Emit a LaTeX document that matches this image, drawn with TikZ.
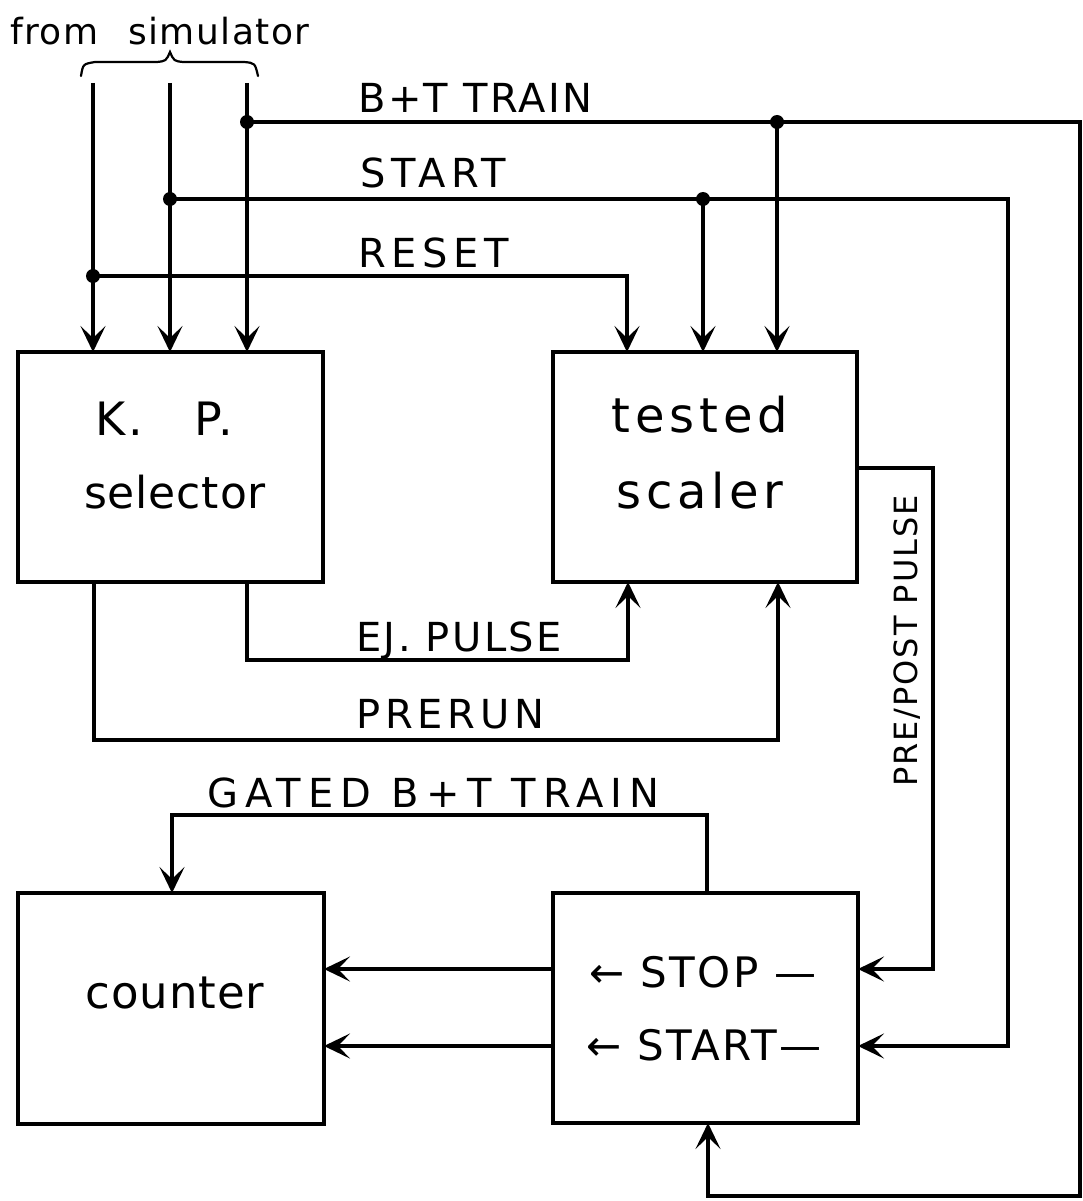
\documentclass[tikz,border=0pt]{standalone}
\usepackage{fontspec}
\setmainfont{DejaVu Sans}
\newfontfamily\hand[LetterSpace=6]{DejaVu Sans}
\usetikzlibrary{arrows.meta,calc}
\begin{document}
\begin{tikzpicture}[x=1pt,y=-1pt,
  box/.style={draw, line width=3.8pt, inner sep=0pt, outer sep=0pt},
  wire/.style={line width=3.4pt},
  arr/.style={wire, -{Stealth[length=26pt,width=25pt,inset=12pt]}},
  lbl/.style={font=\hand\fontsize{40}{48}\selectfont, inner sep=0pt},
  boxtxt/.style={font=\hand\fontsize{46}{54}\selectfont, inner sep=0pt},
  dot/.style={circle, fill, inner sep=0pt, minimum size=14pt}
]
\useasboundingbox (0,0) rectangle (1083,1201);

% blocks
\node[box, minimum width=305pt, minimum height=230pt] (kp)  at (170.5,467) {};
\node[box, minimum width=304pt, minimum height=230pt] (ts)  at (705,467) {};
\node[box, minimum width=306pt, minimum height=231pt] (ctr) at (171,1008.5) {};
\node[box, minimum width=305pt, minimum height=230pt] (ss)  at (705.5,1008) {};

% block texts
\node[boxtxt, anchor=base] (kpa) at (164,435) {K.\hspace{52pt}P.};
\node[boxtxt, anchor=base, font=\hand\addfontfeature{LetterSpace=2}\fontsize{44}{52}\selectfont] (kpb) at (175,508) {selector};
\node[boxtxt, anchor=base, font=\hand\addfontfeature{LetterSpace=10}\fontsize{48}{56}\selectfont] (tsa) at (700,432) {tested};
\node[boxtxt, anchor=base, font=\hand\addfontfeature{LetterSpace=10}\fontsize{48}{56}\selectfont] (tsb) at (700,508) {scaler};
\node[boxtxt, anchor=base, font=\hand\addfontfeature{LetterSpace=2}\fontsize{45}{52}\selectfont] (ctrt) at (175,1008) {counter};
\node[lbl, anchor=base, font=\hand\fontsize{42}{50}\selectfont] (stop) at (703,987) {← STOP —};
\node[lbl, anchor=base, font=\hand\fontsize{42}{50}\selectfont] (strt) at (704,1060) {← START—};

% from simulator
\node[lbl, anchor=base west, font=\hand\addfontfeature{LetterSpace=4}\fontsize{36}{42}\selectfont] (sim) at (10,45) {from\hspace{30pt}simulator};
\draw[line width=2.2pt, line cap=round] (81,76) .. controls (83,64) .. (95,62) -- (157,62)
  .. controls (166,61) .. (170,52) .. controls (174,61) .. (183,62) -- (244,62)
  .. controls (255,63) .. (258,76);

\coordinate (s1) at (93,83);
\coordinate (s2) at (170,83);
\coordinate (s3) at (247,83);
\draw[arr] (s1) -- (s1 |- kp.north);
\draw[arr] (s2) -- (s2 |- kp.north);
\draw[arr] (s3) -- (s3 |- kp.north);

% B+T TRAIN
\coordinate (j1) at (247,122);
\coordinate (c1) at (1080,122);
\coordinate (c2) at (1080,1196);
\coordinate (c3) at (708,1196);
\draw[arr] (j1) -- (c1) -- (c2) -- (c3) -- (c3 |- ss.south);
\coordinate (j2) at (777,122);
\draw[arr] (j2) -- (j2 |- ts.north);
\node[dot] (d1) at (j1) {};
\node[dot] (d2) at (j2) {};
\node[lbl, anchor=base west] (lbt) at (358,113) {B+T TRAIN};

% START
\coordinate (j3) at (170,199);
\coordinate (c4) at (1008,199);
\coordinate (yst) at (0,1046);
\draw[arr] (j3) -- (c4) |- (ss.east |- yst);
\coordinate (j4) at (703,199);
\draw[arr] (j4) -- (j4 |- ts.north);
\node[dot] (d3) at (j3) {};
\node[dot] (d4) at (j4) {};
\node[lbl, anchor=base west, font=\hand\addfontfeature{LetterSpace=14}\fontsize{40}{48}\selectfont] (lst) at (360,188) {START};

% RESET
\coordinate (j5) at (93,276);
\coordinate (c5) at (627,276);
\draw[arr] (j5) -- (c5) -- (c5 |- ts.north);
\node[dot] (d5) at (j5) {};
\node[lbl, anchor=base west, font=\hand\addfontfeature{LetterSpace=14}\fontsize{40}{48}\selectfont] (lrs) at (358,267) {RESET};

% EJ. PULSE
\coordinate (e1) at (247,660);
\coordinate (e2) at (628,660);
\draw[arr] (e1 |- kp.south) -- (e1) -- (e2) -- (e2 |- ts.south);
\node[lbl, anchor=base west] (lej) at (356,651) {EJ. PULSE};

% PRERUN
\coordinate (p1) at (94,740);
\coordinate (p2) at (778,740);
\draw[arr] (p1 |- kp.south) -- (p1) -- (p2) -- (p2 |- ts.south);
\node[lbl, anchor=base west, font=\hand\addfontfeature{LetterSpace=12}\fontsize{40}{48}\selectfont] (lpr) at (356,728) {PRERUN};

% PRE/POST PULSE
\coordinate (q1) at (933,468);
\coordinate (ysp) at (0,969);
\draw[arr] (ts.east |- q1) -- (q1) |- (ss.east |- ysp);
\node[lbl, rotate=90, font=\hand\fontsize{32}{40}\selectfont] (lpp) at (907,641) {PRE/POST PULSE};

% GATED B+T TRAIN
\coordinate (g1) at (707,815);
\coordinate (g2) at (172,815);
\draw[arr] (g1 |- ss.north) -- (g1) -- (g2) -- (g2 |- ctr.north);
\node[lbl, anchor=base west, font=\hand\addfontfeature{LetterSpace=18}\fontsize{40}{48}\selectfont] (lg) at (207,807) {GATED B+T TRAIN};

% to counter
\draw[arr] (ss.west |- ysp) -- (ctr.east |- ysp);
\draw[arr] (ss.west |- yst) -- (ctr.east |- yst);
\end{tikzpicture}
\end{document}
